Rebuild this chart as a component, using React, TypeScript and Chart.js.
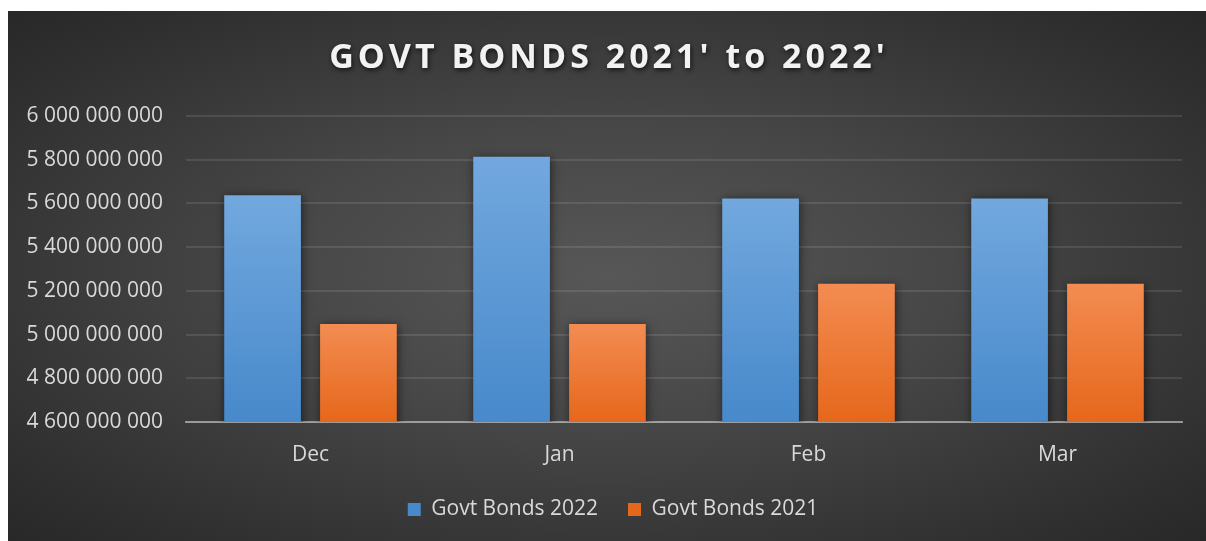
import { useEffect, useRef } from 'react';
import { Chart, registerables } from 'chart.js';

Chart.register(...registerables);

const MONTHS = ['Dec', 'Jan', 'Feb', 'Mar'];
const BONDS_2022 = [5637000000, 5814000000, 5623000000, 5623000000];
const BONDS_2021 = [5048000000, 5048000000, 5233000000, 5233000000];
const TITLE = "GOVT BONDS 2021' to 2022'";

const Y_MIN = 4600000000;
const Y_MAX = 6000000000;
const Y_STEP = 200000000;

const FONT = '"Open Sans", "Noto Sans", sans-serif';
const TEXT = '#d9d9d9';

// gradient per bar, lighter at the top
function barFill(top: string, bottom: string) {
  return (ctx: any) => {
    const chart = ctx.chart;
    const y = chart.scales?.y;
    if (!chart.chartArea || !y || ctx.raw == null) return bottom;
    const yTop = y.getPixelForValue(ctx.raw);
    const yBase = y.getPixelForValue(Y_MIN);
    if (!isFinite(yTop) || !isFinite(yBase) || yBase - yTop < 1) return bottom;
    const g = chart.ctx.createLinearGradient(0, yTop, 0, yBase);
    g.addColorStop(0, top);
    g.addColorStop(1, bottom);
    return g;
  };
}

const barShadow = {
  id: 'barShadow',
  beforeDatasetsDraw(chart: any) {
    const c = chart.ctx;
    c.save();
    c.shadowColor = 'rgba(0, 0, 0, 0.55)';
    c.shadowBlur = 9;
    c.shadowOffsetX = 1;
    c.shadowOffsetY = 1;
  },
  afterDatasetsDraw(chart: any) {
    chart.ctx.restore();
  },
};

// legend sits a little right of the plot centre in the original
const legendNudge = {
  id: 'legendNudge',
  afterLayout(chart: any) {
    if (!chart.legend) return;
    chart.legend.left += 9;
    chart.legend.right += 9;
  },
};

const spacedTitle = {
  id: 'spacedTitle',
  afterDraw(chart: any) {
    const c = chart.ctx;
    c.save();
    c.font = `bold 34px ${FONT}`;
    (c as any).letterSpacing = '4px';
    c.textAlign = 'center';
    c.textBaseline = 'middle';
    c.fillStyle = '#f2f2f2';
    c.shadowColor = 'rgba(0, 0, 0, 0.7)';
    c.shadowBlur = 5;
    c.shadowOffsetX = 1;
    c.shadowOffsetY = 2;
    c.fillText(TITLE, chart.width / 2 + 2, 47);
    c.restore();
  },
};

const fmt = (v: number) => Math.round(v).toLocaleString('en-US').replace(/,/g, ' ');

export default function App() {
  const canvasRef = useRef<HTMLCanvasElement>(null);
  const chartRef = useRef<Chart | null>(null);

  useEffect(() => {
    if (!canvasRef.current) return;
    if (chartRef.current) chartRef.current.destroy();

    chartRef.current = new Chart(canvasRef.current, {
      type: 'bar',
      data: {
        labels: MONTHS,
        datasets: [
          {
            label: 'Govt Bonds 2022',
            data: BONDS_2022,
            backgroundColor: barFill('#72a8de', '#4789cb'),
            categoryPercentage: 0.77,
            barPercentage: 0.8,
          },
          {
            label: 'Govt Bonds 2021',
            data: BONDS_2021,
            backgroundColor: barFill('#f38c52', '#e6671b'),
            categoryPercentage: 0.77,
            barPercentage: 0.8,
          },
        ],
      },
      options: {
        responsive: true,
        maintainAspectRatio: false,
        animation: false,
        layout: { padding: { top: 105, right: 24, bottom: 11, left: 18 } },
        scales: {
          x: {
            z: 1,
            grid: { display: false, drawTicks: false },
            border: { display: true, color: 'rgba(217, 217, 217, 0.55)', width: 2 },
            ticks: { color: TEXT, font: { family: FONT, size: 21 }, padding: 20 },
            afterFit: (s: any) => { s.height = 47; },
          },
          y: {
            min: Y_MIN,
            max: Y_MAX,
            grid: { color: 'rgba(255, 255, 255, 0.1)', lineWidth: 2, drawTicks: false },
            border: { display: false },
            ticks: {
              stepSize: Y_STEP,
              color: TEXT,
              font: { family: FONT, size: 21 },
              padding: 23,
              callback: (v) => fmt(Number(v)),
            },
            afterFit: (s: any) => { s.width = 160; },
          },
        },
        plugins: {
          legend: {
            position: 'bottom',
            labels: {
              color: TEXT,
              font: { family: FONT, size: 21 },
              boxWidth: 13,
              boxHeight: 13,
              padding: 30,
            },
          },
          tooltip: { enabled: false },
        },
      },
      plugins: [barShadow, legendNudge, spacedTitle],
    });

    return () => {
      if (chartRef.current) chartRef.current.destroy();
      chartRef.current = null;
    };
  }, []);

  return (
    <div
      style={{
        position: 'absolute',
        left: 8,
        top: 11,
        width: 1198,
        height: 530,
        background: 'radial-gradient(ellipse at 50% 50%, #575757 0%, #474747 40%, #2f2f2f 85%, #282828 100%)',
      }}
    >
      <canvas ref={canvasRef} />
    </div>
  );
}
